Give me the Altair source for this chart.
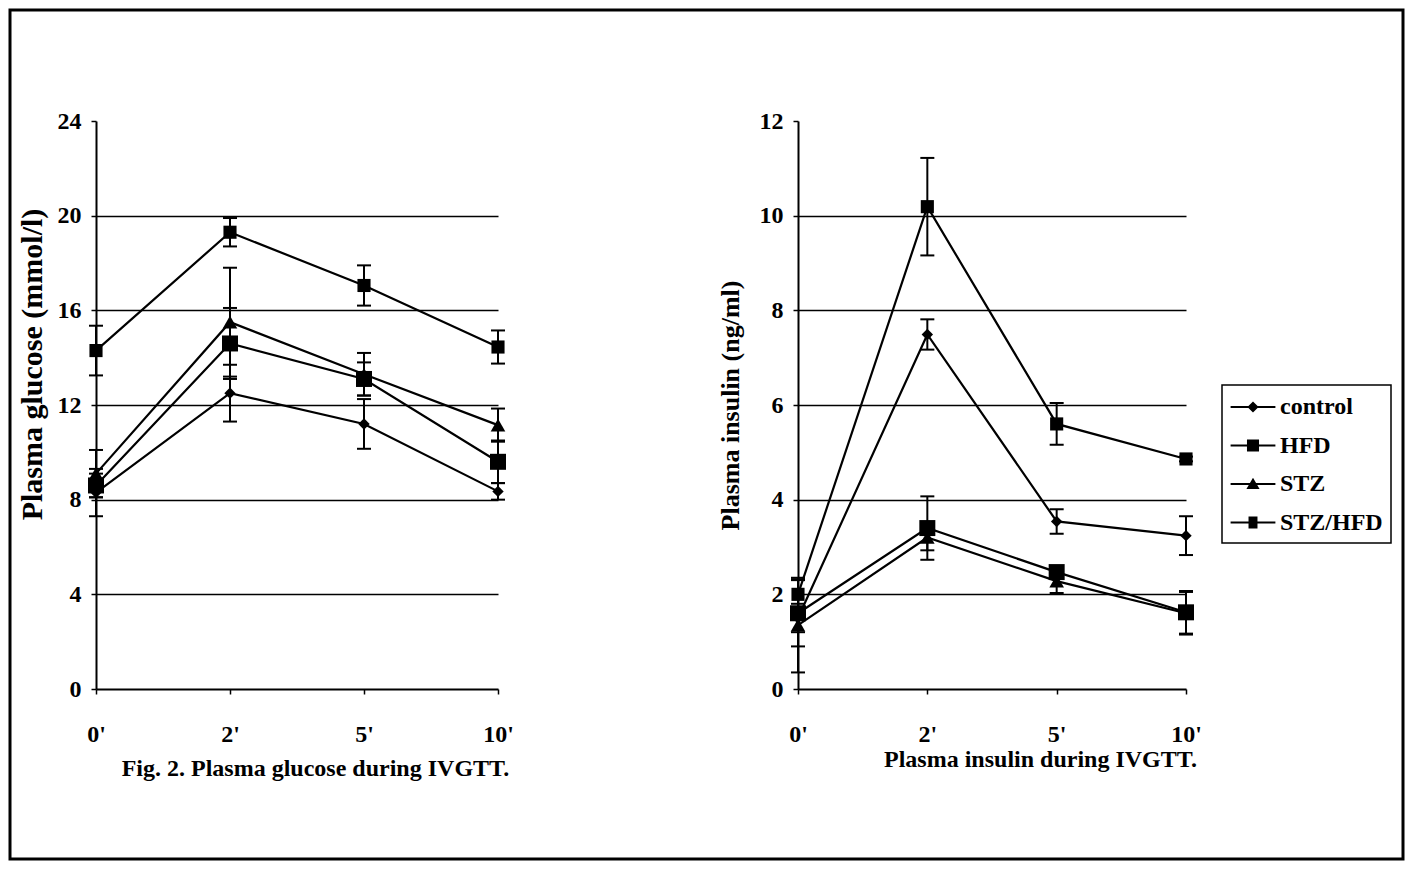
import altair as alt
import pandas as pd

FONT = "Liberation Serif"

times = ["0'", "2'", "5'", "10'"]
groups = ["control", "HFD", "STZ", "STZ/HFD"]

# Plasma glucose (mmol/l), mean and error
glucose_control = [8.3, 12.5, 11.2, 8.35]
glucose_control_err = [1.0, 1.2, 1.05, 0.35]
glucose_hfd = [14.3, 19.3, 17.05, 14.45]
glucose_hfd_err = [1.05, 0.6, 0.85, 0.7]
glucose_stz = [9.1, 15.5, 13.3, 11.15]
glucose_stz_err = [1.0, 2.3, 0.9, 0.7]
glucose_stzhfd = [8.6, 14.6, 13.1, 9.6]
glucose_stzhfd_err = [0.5, 1.5, 0.7, 0.9]

# Plasma insulin (ng/ml), mean and error
insulin_control = [1.5, 7.49, 3.54, 3.24]
insulin_control_err = [0.3, 0.32, 0.26, 0.41]
insulin_hfd = [2.0, 10.19, 5.6, 4.86]
insulin_hfd_err = [0.32, 1.03, 0.44, 0.05]
insulin_stz = [1.35, 3.2, 2.28, 1.6]
insulin_stz_err = [1.0, 0.27, 0.25, 0.45]
insulin_stzhfd = [1.6, 3.4, 2.47, 1.62]
insulin_stzhfd_err = [0.7, 0.67, 0.1, 0.45]


def long_df(means, errs):
    rows = []
    for g, m, e in zip(groups, means, errs):
        for i, (t, v, s) in enumerate(zip(times, m, e)):
            rows.append({"time": t, "idx": i, "group": g, "value": v,
                         "lo": v - s, "hi": v + s})
    return pd.DataFrame(rows)


glucose_df = long_df([glucose_control, glucose_hfd, glucose_stz, glucose_stzhfd],
                     [glucose_control_err, glucose_hfd_err, glucose_stz_err, glucose_stzhfd_err])
insulin_df = long_df([insulin_control, insulin_hfd, insulin_stz, insulin_stzhfd],
                     [insulin_control_err, insulin_hfd_err, insulin_stz_err, insulin_stzhfd_err])

# legend glyphs: a line segment with the group's marker (unit = 14px)
LINE = "M-1.6,-0.075L1.6,-0.075L1.6,0.075L-1.6,0.075Z"
legend_paths = [
    LINE + "M0,-0.4L0.4,0L0,0.4L-0.4,0Z",
    LINE + "M-0.43,-0.43L0.43,-0.43L0.43,0.43L-0.43,0.43Z",
    LINE + "M0,-0.45L0.47,0.35L-0.47,0.35Z",
    LINE + "M-0.32,-0.43L0.32,-0.43L0.32,0.43L-0.32,0.43Z",
]


def panel(df, ymax, step, w, h, ytitle, ytitle_size, ytitle_pad, xtitle,
          xtitle_x, xtitle_y, ytitle_y=None, with_legend=False, frame=False):
    xenc = alt.X("time:N",
                 scale=alt.Scale(type="point", domain=times, padding=0),
                 axis=alt.Axis(title=xtitle, labelAngle=0, labelPadding=28,
                               tickSize=5, tickWidth=1.5, domainWidth=2,
                               grid=False, titleX=xtitle_x, titleY=xtitle_y,
                               titleAlign="center", titleBaseline="middle",
                               titleFontSize=24))
    ax = dict(title=ytitle, values=list(range(0, ymax + 1, step)), tickSize=5,
              tickWidth=1.5, labelPadding=10, titlePadding=ytitle_pad,
              titleFontSize=ytitle_size, grid=True, gridWidth=1.6,
              gridOpacity={"condition": {"test": f"datum.value <= 0 || datum.value >= {ymax}",
                                         "value": 0}, "value": 1},
              domainWidth=2)
    if ytitle_y is not None:
        ax["titleY"] = ytitle_y
    yscale = alt.Scale(domain=[0, ymax], nice=False, zero=True)

    def Y(field):
        return alt.Y(field, scale=yscale, axis=alt.Axis(**ax))

    base = alt.Chart(df)
    lines = base.mark_line(color="black", strokeWidth=2.2).encode(
        x=xenc, y=Y("value:Q"), detail="group:N", order="idx:Q")
    rules = base.mark_rule(color="black", strokeWidth=2).encode(
        x=xenc, y=Y("lo:Q"), y2="hi:Q")
    tick_lo = base.mark_tick(color="black", thickness=2, size=14, opacity=1).encode(
        x=xenc, y=Y("lo:Q"))
    tick_hi = base.mark_tick(color="black", thickness=2, size=14, opacity=1).encode(
        x=xenc, y=Y("hi:Q"))
    points = base.mark_point(filled=True, opacity=1, color="black").encode(
        x=xenc, y=Y("value:Q"),
        shape=alt.Shape("group:N", scale=alt.Scale(
            domain=groups, range=["diamond", "square", "triangle-up", "square"]), legend=None),
        size=alt.Size("group:N", scale=alt.Scale(
            domain=groups, range=[130, 256, 210, 190]), legend=None))
    layers = [lines, rules, tick_lo, tick_hi, points]
    if with_legend:
        dummy = base.mark_point(filled=True, opacity=0, color="black").encode(
            x=xenc, y=Y("value:Q"),
            shape=alt.Shape("group:N", scale=alt.Scale(domain=groups, range=legend_paths),
                            legend=alt.Legend(title=None, orient="none",
                                              legendX=424, legendY=264,
                                              symbolSize=784, symbolFillColor="black",
                                              symbolStrokeWidth=0, symbolOpacity=1,
                                              symbolOffset=9,
                                              labelFont=FONT, labelFontSize=24,
                                              labelFontWeight="bold", labelColor="black",
                                              labelOffset=13, rowPadding=12.5, padding=8,
                                              strokeColor="black", fillColor="white")))
        layers.append(dummy)
    if frame:
        fr = alt.Chart(pd.DataFrame({"k": [0]})).mark_rect(
            fillOpacity=0, stroke="black", strokeWidth=3).encode(
            x=alt.value(-86), x2=alt.value(1307), y=alt.value(-111), y2=alt.value(738))
        layers.append(fr)
    return alt.layer(*layers).resolve_scale(shape="independent").properties(width=w, height=h)


left = panel(glucose_df, 24, 4, 402, 568, "Plasma glucose (mmol/l)", 30, 10,
             "Fig. 2. Plasma glucose during IVGTT.", 219, 79, ytitle_y=243, frame=True)
right = panel(insulin_df, 12, 2, 388, 568, "Plasma insulin (ng/ml)", 26, 16,
              "Plasma insulin during IVGTT.", 242, 70, with_legend=True)

chart = alt.hconcat(left, right, spacing=300, bounds="flush", padding=0).configure(
    font=FONT
).configure_view(strokeWidth=0).configure_axis(
    labelFont=FONT, titleFont=FONT, labelFontSize=24, labelFontWeight="bold",
    titleFontWeight="bold", labelColor="black", titleColor="black",
    domainColor="black", tickColor="black", gridColor="black"
).configure_legend(strokeWidth=1.5)

chart.save("out.html", embed_options={"renderer": "svg", "actions": False})
